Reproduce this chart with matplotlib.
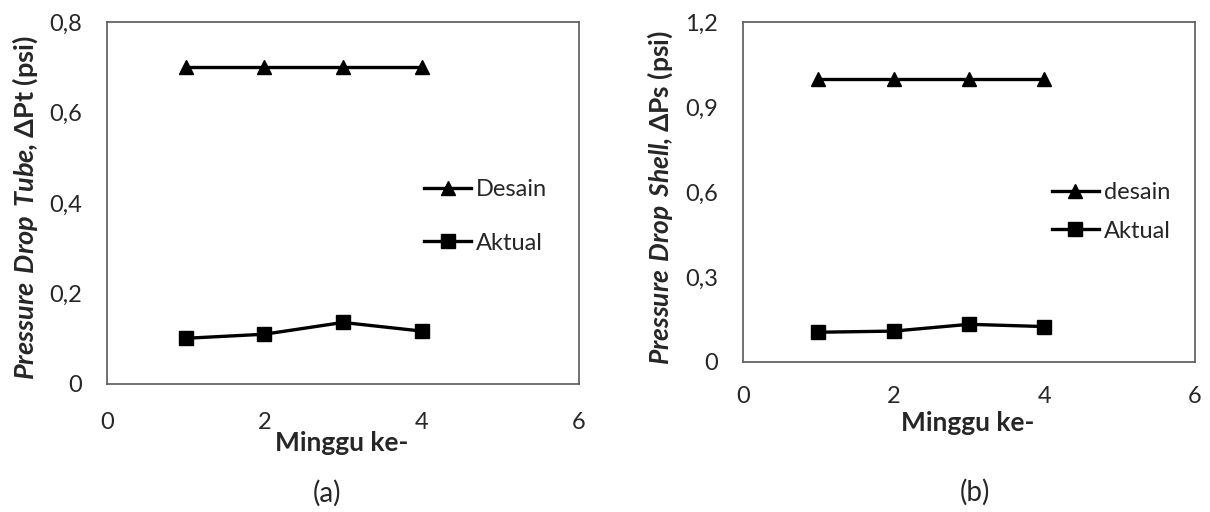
import matplotlib
matplotlib.use('Agg')
import matplotlib.pyplot as plt
from matplotlib.ticker import FuncFormatter

plt.rcParams['font.family'] = ['Lato', 'DejaVu Sans']
plt.rcParams['mathtext.fontset'] = 'custom'
plt.rcParams['mathtext.bfit'] = 'Lato:italic:bold'
plt.rcParams['mathtext.bf'] = 'Lato:bold'
plt.rcParams['mathtext.rm'] = 'Lato'

# data
minggu = [1, 2, 3, 4]
tube_desain = [0.70, 0.70, 0.70, 0.70]
tube_aktual = [0.101, 0.110, 0.136, 0.117]
shell_desain = [1.0, 1.0, 1.0, 1.0]
shell_aktual = [0.105, 0.109, 0.133, 0.125]

tube_ticks = [0, 0.2, 0.4, 0.6, 0.8]
shell_ticks = [0, 0.3, 0.6, 0.9, 1.2]
x_ticks = [0, 2, 4, 6]

TEXT = '#262626'
SPINE = '#595959'


def comma(v, pos):
    s = f'{v:g}'
    return s.replace('.', ',')


def style_axes(ax, yticks, ylim):
    ax.set_xlim(0, 6)
    ax.set_ylim(*ylim)
    ax.set_xticks(x_ticks)
    ax.set_yticks(yticks)
    ax.yaxis.set_major_formatter(FuncFormatter(comma))
    ax.tick_params(length=0, labelsize=17, labelcolor=TEXT)
    ax.tick_params(axis='y', pad=18)
    for s in ax.spines.values():
        s.set_color(SPINE)
        s.set_linewidth(1.2)


fig = plt.figure(figsize=(12.1, 5.12), dpi=100)

# (a) tube
ax1 = fig.add_axes([0.0884, 0.250, 0.390, 0.707])
ax1.plot(minggu, tube_desain, color='black', lw=2.4, marker='^', ms=10.5, label='Desain')
ax1.plot(minggu, tube_aktual, color='black', lw=2.4, marker='s', ms=10.5, label='Aktual')
style_axes(ax1, tube_ticks, (0, 0.8))
ax1.tick_params(axis='x', pad=20)
ax1.set_xlabel('Minggu ke-', fontsize=19, fontweight='bold', color=TEXT, va='top')
ax1.xaxis.set_label_coords(0.498, -0.13)
ax1.set_ylabel(r'$\mathbfit{Pressure\ Drop\ Tube,}$ΔPt (psi)', fontsize=19.5,
               fontweight='bold', color=TEXT)
ax1.yaxis.set_label_coords(-0.142, 0.488)
ax1.legend(loc='upper left', bbox_to_anchor=(0.672, 0.566), frameon=False,
           fontsize=17, handlelength=2.0, handletextpad=0.2, labelspacing=1.38,
           borderpad=0, borderaxespad=0, labelcolor=TEXT)

# (b) shell
ax2 = fig.add_axes([0.614, 0.293, 0.3736, 0.664])
ax2.plot(minggu, shell_desain, color='black', lw=2.4, marker='^', ms=10.5, label='desain')
ax2.plot(minggu, shell_aktual, color='black', lw=2.4, marker='s', ms=10.5, label='Aktual')
style_axes(ax2, shell_ticks, (0, 1.2))
ax2.tick_params(axis='x', pad=17)
ax2.set_xlabel('Minggu ke-', fontsize=19, fontweight='bold', color=TEXT, va='top')
ax2.xaxis.set_label_coords(0.498, -0.145)
ax2.set_ylabel(r'$\mathbfit{Pressure\ Drop\ Shell,}$ΔPs (psi)', fontsize=19,
               fontweight='bold', color=TEXT)
ax2.yaxis.set_label_coords(-0.150, 0.482)
ax2.legend(loc='upper left', bbox_to_anchor=(0.683, 0.530), frameon=False,
           fontsize=17, handlelength=2.0, handletextpad=0.2, labelspacing=0.75,
           borderpad=0, borderaxespad=0, labelcolor=TEXT)

fig.text(327 / 1210, 1 - 493 / 512, '(a)', fontsize=20, ha='center', va='center', color=TEXT)
fig.text(975 / 1210, 1 - 492 / 512, '(b)', fontsize=20, ha='center', va='center', color=TEXT)

fig.savefig('out.png', dpi=100)
